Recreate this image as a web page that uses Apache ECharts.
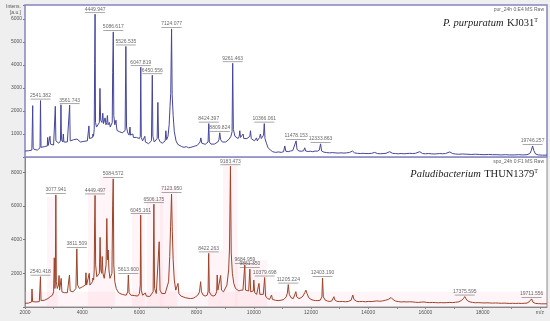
<!DOCTYPE html>
<html><head><meta charset="utf-8">
<script src="https://cdn.jsdelivr.net/npm/echarts@6/dist/echarts.min.js"></script>
<style>html,body{margin:0;padding:0;background:#efefef}#c{width:550px;height:321px}</style>
</head><body><div id="c"></div>
<script>
// m/z, intensity (a.u.)
const topSpectrum = [[2000,260],[2060,300],[2120,270],[2180,330],[2240,300],[2255,380],[2269,2230],[2285,420],[2320,330],[2380,380],[2430,300],[2480,360],[2525,400],[2541.382,2450],[2560,420],[2620,380],[2680,450],[2740,420],[2780,480],[2793,850],[2810,500],[2850,560],[2873,900],[2890,560],[2950,600],[3000,520],[3040,600],[3060,2200],[3080,700],[3130,620],[3180,600],[3220,650],[3240,700],[3257,2270],[3275,750],[3320,650],[3340,1000],[3360,650],[3420,600],[3480,650],[3530,700],[3561.743,2250],[3580,700],[3640,650],[3700,750],[3760,680],[3820,780],[3880,700],[3940,650],[4000,720],[4060,680],[4120,750],[4180,700],[4220,780],[4235,1350],[4255,800],[4320,750],[4360,850],[4375,1000],[4395,900],[4420,1200],[4435,4050],[4449.947,6200],[4465,1500],[4500,1300],[4560,1350],[4600,1500],[4620,2980],[4645,1600],[4690,1500],[4720,1900],[4745,1450],[4780,1500],[4800,1700],[4830,1400],[4860,1500],[4880,1800],[4905,1400],[4950,1500],[4980,1300],[5020,1250],[5050,1500],[5065,3680],[5086.617,5430],[5105,1800],[5140,1400],[5165,1450],[5180,1600],[5200,1300],[5220,1150],[5260,1200],[5300,1100],[5350,1150],[5400,1050],[5450,1100],[5500,1150],[5526.535,4800],[5550,1300],[5590,1050],[5640,950],[5670,1300],[5690,950],[5740,900],[5770,1000],[5790,850],[5850,800],[5900,850],[5950,780],[6000,800],[6030,900],[6047.819,3900],[6065,850],[6110,700],[6160,650],[6190,900],[6210,650],[6260,600],[6320,580],[6380,620],[6420,700],[6450.556,3550],[6470,900],[6520,650],[6580,700],[6620,800],[6645,2370],[6670,800],[6730,650],[6800,600],[6860,650],[6900,700],[6925,1140],[6950,750],[7000,900],[7040,1400],[7070,2200],[7095,2760],[7124.077,5560],[7145,2700],[7180,1800],[7220,1100],[7280,700],[7340,550],[7400,500],[7480,450],[7560,420],[7640,450],[7720,400],[7800,420],[7880,450],[7950,480],[8020,500],[8080,550],[8120,650],[8148,830],[8180,600],[8240,520],[8300,550],[8360,580],[8400,650],[8424.397,1450],[8445,650],[8500,560],[8560,540],[8620,560],[8680,600],[8740,650],[8780,750],[8809.824,1050],[8840,750],[8900,650],[8960,620],[9020,650],[9080,700],[9140,780],[9200,900],[9240,1100],[9261.463,4070],[9285,1200],[9340,900],[9400,850],[9450,800],[9490,900],[9510,1140],[9535,850],[9580,800],[9600,850],[9625,1000],[9650,800],[9700,750],[9760,800],[9820,850],[9860,900],[9884,1140],[9910,800],[9960,750],[10020,700],[10060,700],[10093,830],[10120,700],[10160,750],[10200,850],[10230,1000],[10260,800],[10300,850],[10340,950],[10366.061,1450],[10390,800],[10440,600],[10500,400],[10580,300],[10660,230],[10760,200],[10860,220],[10960,200],[11040,230],[11082,480],[11120,250],[11200,230],[11280,260],[11360,280],[11420,350],[11478.153,700],[11510,330],[11580,260],[11660,250],[11740,270],[11780,400],[11810,260],[11900,240],[11980,250],[12060,230],[12140,260],[12220,250],[12290,300],[12333.863,570],[12370,260],[12450,210],[12550,190],[12650,180],[12740,190],[12793,260],[12840,180],[12950,170],[13050,180],[13150,170],[13250,180],[13350,200],[13446,260],[13520,180],[13620,160],[13720,150],[13820,160],[13920,150],[14020,150],[14120,160],[14225,200],[14320,150],[14420,140],[14520,150],[14620,160],[14750,230],[14850,160],[14950,150],[15050,140],[15150,150],[15250,140],[15350,150],[15450,160],[15550,150],[15650,160],[15800,230],[15900,150],[16000,140],[16100,150],[16200,140],[16300,130],[16400,140],[16500,150],[16600,140],[16700,150],[16850,220],[16950,150],[17050,130],[17150,120],[17300,130],[17450,120],[17600,110],[17750,120],[17900,110],[18050,100],[18200,110],[18350,100],[18500,100],[18650,90],[18800,100],[18950,90],[19100,90],[19250,100],[19400,90],[19550,100],[19650,150],[19700,280],[19746.257,480],[19790,280],[19850,130],[19950,90],[20100,80],[20250,80]];

const bottomSpectrum = [[2000,220],[2060,250],[2120,230],[2180,260],[2230,300],[2245,1070],[2265,320],[2320,280],[2380,300],[2440,280],[2500,320],[2525,350],[2540.418,1800],[2560,380],[2620,350],[2680,400],[2740,420],[2800,500],[2850,560],[2880,610],[2910,500],[2960,700],[3000,900],[3024,2920],[3045,1100],[3060,1400],[3077.941,6650],[3095,1500],[3130,1100],[3170,1300],[3190,1870],[3210,1000],[3240,900],[3265,1700],[3290,900],[3330,800],[3380,850],[3430,780],[3480,850],[3530,900],[3555,1900],[3580,950],[3630,850],[3680,900],[3730,1000],[3780,1100],[3811.509,3450],[3840,1300],[3900,1100],[3960,1000],[4010,1200],[4060,1100],[4110,1300],[4131,2030],[4155,1300],[4200,1200],[4246,2000],[4270,1300],[4320,1400],[4360,1500],[4375,1720],[4400,1600],[4420,2200],[4435,5050],[4449.497,6620],[4470,2500],[4510,1800],[4560,1700],[4600,2000],[4625,4130],[4650,2200],[4680,2000],[4700,3000],[4725,2000],[4770,1700],[4810,1800],[4835,2500],[4860,5250],[4885,2800],[4910,3380],[4935,2200],[4970,1700],[5010,1600],[5040,2000],[5065,6040],[5084.572,7600],[5105,2500],[5140,1500],[5190,1100],[5250,900],[5320,800],[5400,750],[5470,720],[5540,700],[5590,900],[5613.6,1900],[5640,850],[5700,700],[5760,650],[5820,680],[5880,700],[5940,650],[6000,800],[6030,1300],[6045.161,5450],[6065,1000],[6110,700],[6160,650],[6210,830],[6240,650],[6300,600],[6360,620],[6420,650],[6480,900],[6506.175,6100],[6530,1100],[6590,800],[6650,900],[6691,3870],[6720,1000],[6780,800],[6840,750],[6900,800],[6960,900],[7020,1500],[7060,3000],[7090,4760],[7123.95,6700],[7150,4500],[7180,2800],[7220,1600],[7270,1000],[7330,900],[7350,1400],[7380,800],[7450,650],[7530,600],[7610,550],[7700,520],[7790,500],[7880,520],[7960,600],[8040,700],[8100,900],[8140,1500],[8170,900],[8230,700],[8300,650],[8370,700],[8400,900],[8422.263,3180],[8445,900],[8510,700],[8580,650],[8650,700],[8700,900],[8720,1900],[8745,1000],[8800,1000],[8840,1870],[8870,1000],[8940,900],[9000,1000],[9060,1300],[9120,2200],[9150,3500],[9183.473,8350],[9210,3200],[9250,2000],[9300,1400],[9360,1100],[9420,1000],[9480,950],[9550,1000],[9620,1000],[9660,1100],[9684.959,2490],[9710,1000],[9760,900],[9820,950],[9861.35,2250],[9890,900],[9940,850],[9980,950],[10000,1600],[10030,850],[10100,750],[10150,800],[10180,1400],[10210,750],[10270,700],[10330,750],[10379.698,1750],[10410,650],[10480,500],[10550,450],[10600,500],[10620,710],[10650,450],[10750,400],[10850,380],[10950,400],[11050,450],[11130,600],[11170,800],[11205.224,1330],[11240,750],[11300,550],[11380,500],[11440,600],[11470,910],[11500,600],[11580,500],[11650,550],[11720,650],[11780,850],[11820,1000],[11860,800],[11920,550],[12000,450],[12080,400],[12160,380],[12240,380],[12320,400],[12380,600],[12403.19,1720],[12430,600],[12500,400],[12580,350],[12650,330],[12720,350],[12780,450],[12800,610],[12830,420],[12900,340],[13000,320],[13100,330],[13200,310],[13300,330],[13400,400],[13460,710],[13500,450],[13600,330],[13700,320],[13800,330],[13900,310],[14000,330],[14100,320],[14200,340],[14300,360],[14400,340],[14500,360],[14600,400],[14700,450],[14800,560],[14880,420],[14960,350],[15050,320],[15150,300],[15250,310],[15350,300],[15450,310],[15500,340],[15560,300],[15650,280],[15750,270],[15850,290],[15950,300],[16050,270],[16150,260],[16250,270],[16350,260],[16450,250],[16550,260],[16650,250],[16750,260],[16850,270],[16950,260],[17050,280],[17150,300],[17250,380],[17330,500],[17375.595,620],[17420,480],[17480,360],[17560,300],[17650,270],[17750,250],[17850,260],[17950,250],[18050,240],[18150,250],[18250,240],[18350,230],[18450,240],[18550,230],[18650,220],[18750,230],[18850,220],[18950,210],[19050,220],[19150,210],[19250,220],[19350,210],[19450,220],[19550,230],[19620,300],[19711.556,480],[19760,280],[19850,210],[19950,200],[20050,190],[20250,190]];

const topLabels = [2541.382,3561.743,4449.947,5086.617,5526.535,6047.819,6450.556,7124.077,8424.397,8809.824,9261.463,10366.061,11478.153,12333.863,19746.257];
const bottomLabels = [2540.418,3077.941,3811.509,4449.497,5084.572,5613.6,6045.161,6506.175,7123.95,8422.263,9183.473,9684.959,9861.35,10379.698,11205.224,12403.19,17375.595,19711.556];

// light pink highlight windows in the lower spectrum: [m/z from, m/z to, intensity top]
const bottomBandFrom = [2000, 2770, 4200, 4620, 5740, 6260, 6720, 8400, 8920, 9340];
const bottomBandTo   = [20250, 3150, 4620, 5140, 6190, 6820, 7310, 8920, 9440, 10460];
const bottomBandTop  = [900, 6520, 6930, 7820, 5630, 6460, 7110, 3380, 8530, 2790];

const FONT = 'Liberation Sans';
const labelOf = (spec, list) => spec.filter(p => list.includes(p[0]));
const peakLabel = {
  show: true, position: 'top', distance: 1,
  formatter: p => '{t|' + p.value[0].toFixed(3) + '}\n{u|}',
  rich: {
    t: {fontSize: 5, color: '#444', fontFamily: FONT, lineHeight: 6, align: 'center'},
    u: {width: 20, height: 0.7, lineHeight: 1, backgroundColor: '#666', align: 'center'}
  }
};
const bands = bottomBandFrom.map((f, i) => [{xAxis: f, yAxis: 0}, {xAxis: bottomBandTo[i], yAxis: bottomBandTop[i]}]);
const chart = echarts.init(document.getElementById('c'), null, {renderer: 'canvas'});
chart.setOption({
  animation: false,
  backgroundColor: '#efefef',
  grid: [
    {left: 25, right: 3, top: 5, height: 152, show: true, backgroundColor: '#fff', borderColor: '#8585c4', borderWidth: 1.5, z: 3},
    {left: 25, right: 3, top: 157, height: 150, show: true, backgroundColor: '#fff', borderColor: '#8a8a8a', borderWidth: 1}
  ],
  xAxis: [
    {type: 'value', gridIndex: 0, min: 2000, max: 20250, interval: 1000, axisLine: {show: false}, axisTick: {show: false}, axisLabel: {show: false}, splitLine: {show: false}},
    {type: 'value', gridIndex: 1, min: 2000, max: 20250, interval: 1000,
      axisLine: {show: true, lineStyle: {color: '#888', width: 1}},
      axisTick: {show: true, length: 2, lineStyle: {color: '#888'}},
      axisLabel: {fontSize: 5, color: '#555', fontFamily: FONT, margin: 3, showMaxLabel: false,
        formatter: v => v === 20000 ? 'm/z' : (v % 2000 === 0 && v < 20000 ? String(v) : '')},
      splitLine: {show: false}}
  ],
  yAxis: [
    {type: 'value', gridIndex: 0, min: 0, max: 6600, interval: 1000,
      axisLine: {show: false}, axisTick: {show: true, length: 2, lineStyle: {color: '#777'}},
      axisLabel: {fontSize: 5, color: '#555', fontFamily: FONT, margin: 3, formatter: v => (v > 0 && v <= 6000) ? String(v) : ''},
      splitLine: {show: false}},
    {type: 'value', gridIndex: 1, min: 0, max: 8900, interval: 2000,
      axisLine: {show: true, lineStyle: {color: '#888'}}, axisTick: {show: true, length: 2, lineStyle: {color: '#777'}},
      axisLabel: {fontSize: 5, color: '#555', fontFamily: FONT, margin: 3, formatter: v => (v > 0 && v <= 8000) ? String(v) : ''},
      splitLine: {show: false}}
  ],
  series: [
    {type: 'line', xAxisIndex: 0, yAxisIndex: 0, data: topSpectrum, showSymbol: false, symbol: 'none', lineStyle: {color: '#45459f', width: 1}, z: 4},
    {type: 'line', xAxisIndex: 1, yAxisIndex: 1, data: bottomSpectrum, showSymbol: false, symbol: 'none', lineStyle: {color: '#9e4328', width: 1},
      markArea: {silent: true, itemStyle: {color: 'rgba(255,185,205,0.16)'}, data: bands}},
    {type: 'scatter', xAxisIndex: 0, yAxisIndex: 0, data: labelOf(topSpectrum, topLabels), symbolSize: 0, label: peakLabel, z: 5},
    {type: 'scatter', xAxisIndex: 1, yAxisIndex: 1, data: labelOf(bottomSpectrum, bottomLabels), symbolSize: 0, label: peakLabel}
  ],
  graphic: [
    {type: 'text', x: 21, y: 4, z: 10, style: {text: 'Intens.\n[a.u.]', font: '5px ' + FONT, fill: '#555', align: 'right', lineHeight: 6}},
    {type: 'text', right: 6, top: 7, z: 10, style: {text: 'pur_24h 0:E4 MS Raw', font: '5px ' + FONT, fill: '#666'}},
    {type: 'text', right: 12, top: 17, z: 10, style: {
      text: '{i|P. purpuratum} {n|KJ031}{s|T}',
      rich: {i: {fontStyle: 'italic', fontFamily: 'Liberation Serif', fontSize: 10.5, fill: '#222'},
             n: {fontFamily: 'Liberation Serif', fontSize: 10.5, fill: '#222'},
             s: {fontFamily: 'Liberation Serif', fontSize: 6, fill: '#222', padding: [0, 0, 6, 0]}}}},
    {type: 'text', right: 6, top: 159, z: 10, style: {text: 'spo_24h 0:F1 MS Raw', font: '5px ' + FONT, fill: '#666'}},
    {type: 'text', right: 12, top: 168, z: 10, style: {
      text: '{i|Paludibacterium} {n|THUN1379}{s|T}',
      rich: {i: {fontStyle: 'italic', fontFamily: 'Liberation Serif', fontSize: 10.5, fill: '#222'},
             n: {fontFamily: 'Liberation Serif', fontSize: 10.5, fill: '#222'},
             s: {fontFamily: 'Liberation Serif', fontSize: 6, fill: '#222', padding: [0, 0, 6, 0]}}}}
  ]
});
</script></body></html>
